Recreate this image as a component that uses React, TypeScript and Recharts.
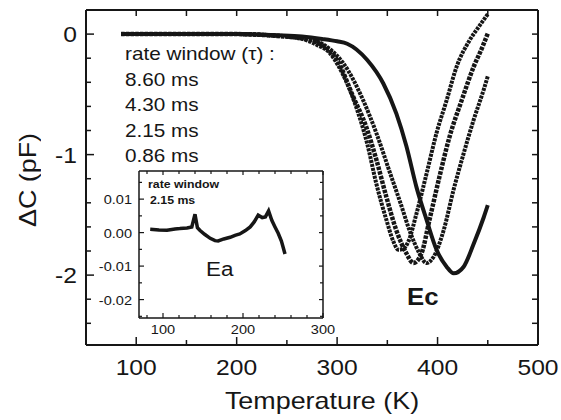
import { LineChart, Line, XAxis, YAxis } from 'recharts';

const INK = '#161616';
const FONT = '"Liberation Sans", Arial, Helvetica, sans-serif';
const SX = 1.12;

// main panel: temperature (K) and ΔC (pF) for each rate window
const rateWindows = ['8.60 ms', '4.30 ms', '2.15 ms', '0.86 ms'];

const tempA = [85, 120, 160, 200, 240, 265, 280, 293, 301, 310, 320, 330, 339, 349, 356, 361, 366, 371, 379, 389, 399, 409, 419, 432, 441, 450];
const capA = [0, 0, 0, 0, -0.015, -0.04, -0.09, -0.16, -0.26, -0.41, -0.63, -0.91, -1.24, -1.54, -1.72, -1.79, -1.78, -1.72, -1.49, -1.16, -0.82, -0.55, -0.27, -0.05, 0.06, 0.165];

const tempB = [85, 120, 160, 200, 240, 265, 280, 290, 300, 316, 329, 339, 349, 359, 369, 376, 384, 392, 402, 412, 424, 436, 444, 450];
const capB = [0, 0, 0, 0, -0.015, -0.035, -0.07, -0.12, -0.215, -0.52, -0.77, -1.04, -1.35, -1.63, -1.82, -1.9, -1.82, -1.54, -1.18, -0.85, -0.55, -0.27, -0.12, 0.005];

const tempC = [85, 120, 160, 200, 240, 265, 280, 295, 306, 326, 339, 353, 363, 373, 382, 389, 396, 406, 416, 426, 436, 446, 450];
const capC = [0, 0, 0, 0, -0.012, -0.03, -0.06, -0.14, -0.24, -0.55, -0.82, -1.16, -1.4, -1.65, -1.82, -1.9, -1.85, -1.63, -1.29, -0.99, -0.71, -0.46, -0.35];

const tempD = [85, 120, 160, 200, 240, 265, 285, 300, 310, 330, 346, 359, 369, 379, 389, 399, 409, 416, 426, 436, 446, 450];
const capD = [0, 0, 0, 0, -0.01, -0.02, -0.04, -0.06, -0.08, -0.215, -0.41, -0.66, -0.93, -1.27, -1.54, -1.79, -1.93, -1.985, -1.93, -1.74, -1.52, -1.42];

const mainXTicks = [100, 150, 200, 250, 300, 350, 400, 450, 500];
const mainXLabels = [100, 200, 300, 400, 500];
const mainYTicks = [0, -0.2, -0.4, -0.6, -0.8, -1, -1.2, -1.4, -1.6, -1.8, -2, -2.2, -2.4];
const mainYLabels = [0, -1, -2];

// inset: rate window 2.15 ms
const insetTemp = [84, 95, 105, 115, 121, 130, 136, 140, 143, 146, 152, 159, 165, 169, 176, 184, 190, 196, 203, 209, 214, 219, 224, 228, 232, 236, 240, 244, 248, 250, 252.5];
const insetCap = [0.001, 0.0008, 0.0007, 0.0011, 0.0012, 0.0014, 0.0017, 0.0055, 0.0015, 0.0007, -0.0005, -0.0017, -0.0024, -0.0025, -0.0019, -0.0014, -0.0008, -0.0004, 0.0006, 0.0017, 0.0032, 0.0052, 0.0045, 0.0047, 0.0065, 0.0037, 0.0017, -0.0002, -0.0025, -0.0042, -0.0064];

const insetXTicks = [80, 100, 120, 140, 160, 180, 200, 220, 240, 260, 280, 300];
const insetXLabels = [100, 200, 300];
const insetYTicks = [0.015, 0.01, 0.005, 0, -0.005, -0.01, -0.015, -0.02, -0.025];
const insetYLabels = [0.01, 0, -0.01, -0.02];

const zip = (t: number[], v: number[]) => t.map((x, i) => ({ t: x, v: v[i] }));

const seriesA = zip(tempA, capA);
const seriesB = zip(tempB, capB);
const seriesC = zip(tempC, capC);
const seriesD = zip(tempD, capD);
const insetSeries = zip(insetTemp, insetCap);

const isIn = (list: number[], v: number) => list.some((m) => Math.abs(m - v) < 1e-9);

function SText({ x, y, anchor, size, children }: any) {
  return (
    <text x={x} y={y} textAnchor={anchor} fontSize={size} fontFamily={FONT} fill={INK}
      transform={`translate(${x} ${y}) scale(${SX} 1) translate(${-x} ${-y})`}>
      {children}
    </text>
  );
}

// tick drawn by hand: inward mark (longer for labelled values) + optional label
function makeTick(side: string, labels: number[], big: number, small: number, size: number, fmt: (v: number) => string, gap: number, base: number, w: number) {
  return (p: any) => {
    const v = p.payload.value;
    const major = isIn(labels, v);
    const len = major ? big : small;
    const { x, y } = p;
    let line;
    if (side === 'bottom') line = <line x1={x} x2={x} y1={y} y2={y - len} stroke={INK} strokeWidth={w} />;
    else if (side === 'top') line = <line x1={x} x2={x} y1={y} y2={y + len} stroke={INK} strokeWidth={w} />;
    else if (side === 'left') line = <line x1={x} x2={x + len} y1={y} y2={y} stroke={INK} strokeWidth={w} />;
    else line = <line x1={x} x2={x - len} y1={y} y2={y} stroke={INK} strokeWidth={w} />;
    let label = null;
    if (major && side === 'bottom') label = <SText x={x} y={y + gap} anchor="middle" size={size}>{fmt(v)}</SText>;
    if (major && side === 'left') label = <SText x={x - gap} y={y + base} anchor="end" size={size}>{fmt(v)}</SText>;
    return <g>{line}{label}</g>;
  };
}

const MainBottom = makeTick('bottom', mainXLabels, 8, 5, 22, String, 30, 0, 1.5);
const MainTop = makeTick('top', mainXLabels, 6, 6, 22, String, 0, 0, 1.5);
const MainLeft = makeTick('left', mainYLabels, 8, 5, 22, String, 9, 8, 1.5);
const MainRight = makeTick('right', mainYLabels, 6, 6, 22, String, 0, 0, 1.5);
const InsetBottom = makeTick('bottom', insetXLabels, 5, 3, 13, String, 16, 0, 1.2);
const InsetTop = makeTick('top', insetXLabels, 4, 3, 13, String, 0, 0, 1.2);
const InsetLeft = makeTick('left', insetYLabels, 5, 3, 13, (v) => v.toFixed(2), 7, 5, 1.2);
const InsetRight = makeTick('right', insetYLabels, 4, 3, 13, String, 0, 0, 1.2);

function Text({ left, top, size, children, weight }: any) {
  return (
    <div style={{
      position: 'absolute', left, top, fontSize: size, fontFamily: FONT, color: INK,
      fontWeight: weight || 400, lineHeight: 1, whiteSpace: 'nowrap',
      transform: `scaleX(${SX})`, transformOrigin: 'left top',
    }}>
      {children}
    </div>
  );
}

const common = { type: 'number' as const, allowDataOverflow: true, interval: 0 as const, tickSize: 0, tickMargin: 0, tickLine: false };

export default function App() {
  return (
    <div style={{ position: 'absolute', left: 0, top: 0, width: 561, height: 420, background: '#fff', overflow: 'hidden' }}>
      <LineChart width={561} height={420} margin={{ top: 0, right: 0, bottom: 0, left: 0 }}>
        <XAxis xAxisId="b" dataKey="t" domain={[50, 500]} ticks={mainXTicks} height={75} {...common}
          tick={<MainBottom />} axisLine={{ stroke: INK, strokeWidth: 2 }} />
        <XAxis xAxisId="t" orientation="top" dataKey="t" domain={[50, 500]} ticks={mainXTicks.slice(0, -1)} height={10} {...common}
          tick={<MainTop />} axisLine={{ stroke: INK, strokeWidth: 2 }} />
        <YAxis yAxisId="l" domain={[-2.58, 0.2]} ticks={mainYTicks} width={86} {...common}
          tick={<MainLeft />} axisLine={{ stroke: INK, strokeWidth: 2 }} />
        <YAxis yAxisId="r" orientation="right" domain={[-2.58, 0.2]} ticks={mainYTicks} width={23} {...common}
          tick={<MainRight />} axisLine={{ stroke: INK, strokeWidth: 2 }} />
        <Line xAxisId="b" yAxisId="l" data={seriesD} dataKey="v" name={rateWindows[3]} type="monotone" stroke={INK} strokeWidth={4} dot={false} isAnimationActive={false} />
        <Line xAxisId="b" yAxisId="l" data={seriesC} dataKey="v" name={rateWindows[2]} type="monotone" stroke={INK} strokeWidth={4} strokeDasharray="3 1" dot={false} isAnimationActive={false} />
        <Line xAxisId="b" yAxisId="l" data={seriesB} dataKey="v" name={rateWindows[1]} type="monotone" stroke={INK} strokeWidth={4.5} strokeDasharray="3.5 1.2" dot={false} isAnimationActive={false} />
        <Line xAxisId="b" yAxisId="l" data={seriesA} dataKey="v" name={rateWindows[0]} type="monotone" stroke={INK} strokeWidth={4} strokeDasharray="3 1" dot={false} isAnimationActive={false} />
      </LineChart>

      <div style={{ position: 'absolute', left: 90, top: 160, width: 260, height: 190 }}>
        <LineChart width={260} height={190} margin={{ top: 0, right: 20, bottom: 0, left: 0 }}>
          <XAxis xAxisId="b" dataKey="t" domain={[70, 300]} ticks={insetXTicks} height={32} {...common}
            tick={<InsetBottom />} axisLine={{ stroke: INK, strokeWidth: 1.5 }} />
          <XAxis xAxisId="t" orientation="top" dataKey="t" domain={[70, 300]} ticks={insetXTicks} height={11} {...common}
            tick={<InsetTop />} axisLine={{ stroke: INK, strokeWidth: 1.5 }} />
          <YAxis yAxisId="l" domain={[-0.0255, 0.0184]} ticks={insetYTicks} width={49} {...common}
            tick={<InsetLeft />} axisLine={{ stroke: INK, strokeWidth: 1.5 }} />
          <YAxis yAxisId="r" orientation="right" domain={[-0.0255, 0.0184]} ticks={insetYTicks} width={7} {...common}
            tick={<InsetRight />} axisLine={{ stroke: INK, strokeWidth: 1.5 }} />
          <Line xAxisId="b" yAxisId="l" data={insetSeries} dataKey="v" type="linear" stroke={INK} strokeWidth={3.5} dot={false} isAnimationActive={false} />
        </LineChart>
      </div>

      <Text left={125} top={45} size={18.5}>rate window (τ) :</Text>
      {rateWindows.map((r, i) => (
        <Text key={r} left={125} top={71 + i * 25.3} size={18.5}>{r}</Text>
      ))}
      <Text left={148} top={179} size={11} weight={600}>rate window</Text>
      <Text left={150} top={195} size={11} weight={600}>2.15 ms</Text>
      <Text left={206} top={259} size={20}>Ea</Text>
      <Text left={407} top={286} size={23} weight={700}>Ec</Text>

      <div style={{ position: 'absolute', left: 322, top: 389, transform: 'translateX(-50%)', fontSize: 24, fontFamily: FONT, color: INK, whiteSpace: 'nowrap', lineHeight: 1 }}>
        <span style={{ display: 'inline-block', transform: `scaleX(${SX})` }}>Temperature (K)</span>
      </div>
      <div style={{ position: 'absolute', left: 28, top: 180, transform: 'translate(-50%, -50%) rotate(-90deg)', fontSize: 24, fontFamily: FONT, color: INK, whiteSpace: 'nowrap', lineHeight: 1 }}>
        <span style={{ display: 'inline-block', transform: `scaleX(${SX})` }}>ΔC (pF)</span>
      </div>
    </div>
  );
}
